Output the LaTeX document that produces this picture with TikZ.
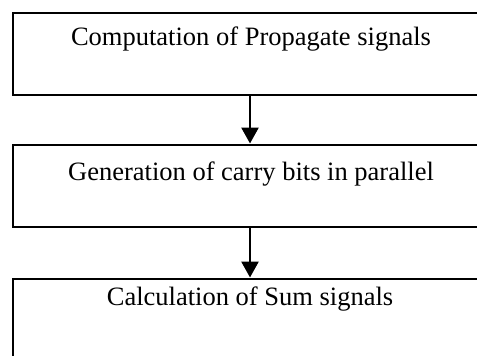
\documentclass[tikz,border=0pt]{standalone}
\usepackage{fontspec}
\setmainfont{Liberation Serif}
\usetikzlibrary{arrows.meta}
\begin{document}
\begin{tikzpicture}[x=1pt,y=-1pt,
  box/.style={draw, line width=2pt, minimum width=476pt, minimum height=82pt, inner sep=0pt, anchor=north west},
  lbl/.style={font=\fontsize{26.5}{30}\selectfont, anchor=base, inner sep=0pt},
  conn/.style={line width=2.7pt, -{Triangle[width=17pt,length=16pt]}}]
\useasboundingbox (0,0) rectangle (477,356);
\clip (0,0) rectangle (477,356);
\fill[white] (0,0) rectangle (477,356);
\node[box] (b1) at (12,11.5) {};
\node[box] (b2) at (12,143.5) {};
\node[box] (b3) at (12,277.5) {};
\node[lbl] (t1) at (251,45.5) {Computation of Propagate signals};
\node[lbl] (t2) at (251,180) {Generation of carry bits in parallel};
\node[lbl] (t3) at (250,305) {Calculation of Sum signals};
\draw[conn] (b1.south -| t1) ++(-1,0) coordinate (a1s) -- (a1s |- b2.north);
\draw[conn] (b2.south -| t2) ++(-1,0) coordinate (a2s) -- (a2s |- b3.north);
\end{tikzpicture}
\end{document}
